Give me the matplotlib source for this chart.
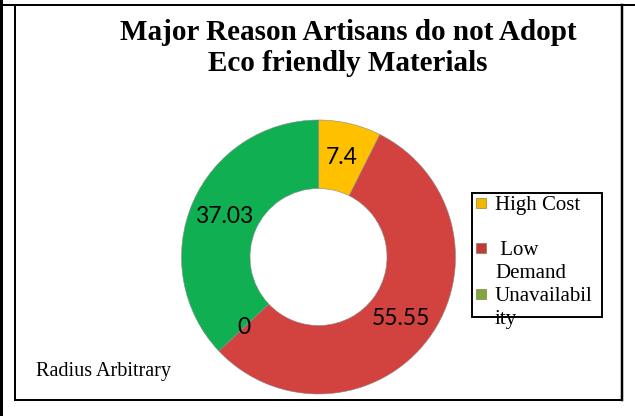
import matplotlib
matplotlib.use("Agg")
import matplotlib.pyplot as plt
from matplotlib.patches import Rectangle
from matplotlib.lines import Line2D
import numpy as np

W, H = 635, 416

# data
values = [7.4, 55.55, 0, 37.03]
value_labels = ["7.4", "55.55", "0", "37.03"]
slice_colors = ["#FFC000", "#D2433F", "#D2433F", "#10B052"]
legend_names = ["High Cost", " Low\nDemand", "Unavailabil\nity"]
legend_colors = ["#F2B800", "#BE3C3A", "#7EA83C"]
title_lines = ["Major Reason Artisans do not Adopt", "Eco friendly Materials"]
note = "Radius Arbitrary"


def fx(x):
    return x / W


def fy(y):
    return 1 - y / H


fig = plt.figure(figsize=(W / 100, H / 100), dpi=100)

# page borders
for xs, ys, lw in [
    ((1, 1), (0, 416), 3),
    ((0, 635), (5, 5), 2),
    ((15, 15), (5, 400), 2),
    ((622, 622), (5, 400), 2.5),
    ((15, 622), (400, 400), 2),
]:
    fig.add_artist(Line2D([fx(x) for x in xs], [fy(y) for y in ys],
                          color="black", lw=lw * 0.72, transform=fig.transFigure))

# donut
cx, cy, r = 318.5, 257, 137
ax = fig.add_axes([fx(cx - r), fy(cy + r), 2 * r / W, 2 * r / H])
wedges, _ = ax.pie(values, colors=slice_colors, startangle=90, counterclock=False,
                   radius=1, wedgeprops=dict(width=0.5, edgecolor="#8a8a8a", linewidth=0.4))
ax.set_xlim(-1, 1)
ax.set_ylim(-1, 1)
ax.set_aspect("auto")
ax.axis("off")

for w, lab in zip(wedges, value_labels):
    ang = np.deg2rad((w.theta1 + w.theta2) / 2)
    ax.text(0.75 * np.cos(ang), 0.75 * np.sin(ang), lab, ha="center", va="center",
            fontsize=16.5, family="Lato", color="black")

# title, one line at a time
for i, line in enumerate(title_lines):
    fig.text(fx(348), fy(40 + 31 * i), line, ha="center", va="baseline",
             family="Liberation Serif", fontweight="bold", fontsize=21)

# legend box
fig.add_artist(Rectangle((fx(472), fy(317)), (602 - 472) / W, (317 - 193) / H,
                         facecolor="white", edgecolor="black", lw=1.4,
                         transform=fig.transFigure))
entry_y = [210, 255, 301]
for name, col, yb in zip(legend_names, legend_colors, entry_y):
    fig.add_artist(Rectangle((fx(476), fy(yb - 2)), 10 / W, 10 / H, facecolor=col,
                             edgecolor="#7a6a30", lw=0.4, transform=fig.transFigure))
    for j, part in enumerate(name.split("\n")):
        fig.text(fx(495), fy(yb + 23 * j), part, ha="left", va="baseline",
                 family="Liberation Serif", fontsize=15)

fig.text(fx(36), fy(376), note, ha="left", va="baseline", family="Liberation Serif",
         fontsize=14.5)

fig.savefig("out.png", dpi=100)
